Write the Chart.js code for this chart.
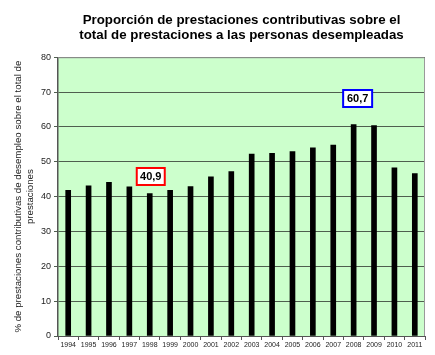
<!DOCTYPE html>
<html>
<head>
<meta charset="utf-8">
<script src="https://cdn.jsdelivr.net/npm/chart.js@4"></script>
<style>
html,body{margin:0;padding:0;background:#fff;}
#wrap{width:435px;height:355px;}
</style>
</head>
<body>
<div id="wrap"><canvas id="c" width="435" height="355"></canvas></div>
<script>
const years = ['1994','1995','1996','1997','1998','1999','2000','2001','2002','2003','2004','2005','2006','2007','2008','2009','2010','2011'];
const values = [41.8,43.1,44.1,42.8,40.9,41.8,42.9,45.7,47.2,52.2,52.4,52.9,54.0,54.8,60.7,60.4,48.3,46.6];
const yTicks = [0,10,20,30,40,50,60,70,80];
const titleLines = ['Proporción de prestaciones contributivas sobre el','total de prestaciones a las personas desempleadas'];
const yTitleLines = ['% de prestaciones contributivas de desempleo sobre el total de','prestaciones'];
const callouts = [
  {year:'1998', text:'40,9', color:'#ff0000'},
  {year:'2008', text:'60,7', color:'#0000ff'}
];

const bgPlugin = {
  id:'bg',
  beforeDraw(chart){
    const {ctx, chartArea:a} = chart;
    ctx.save();
    ctx.fillStyle = '#ccffcc';
    ctx.fillRect(a.left, a.top, a.right-a.left, a.bottom-a.top);
    ctx.restore();
  },
  afterDatasetsDraw(chart){
    const {ctx, chartArea:a} = chart;
    ctx.save();
    ctx.strokeStyle = '#9a9a9a';
    ctx.lineWidth = 1;
    ctx.beginPath();
    ctx.moveTo(a.left, a.top+0.5);
    ctx.lineTo(a.right-0.5, a.top+0.5);
    ctx.lineTo(a.right-0.5, a.bottom);
    ctx.stroke();
    ctx.restore();
  }
};

const calloutPlugin = {
  id:'callouts',
  afterDraw(chart){
    const {ctx} = chart;
    const xs = chart.scales.x, ys = chart.scales.y;
    ctx.save();
    ctx.font = 'bold 11px "Liberation Sans", Arial, sans-serif';
    ctx.textAlign = 'center';
    ctx.textBaseline = 'middle';
    callouts.forEach((c, k) => {
      const i = years.indexOf(c.year);
      const v = values[i];
      const cx = xs.getPixelForValue(i) + (k === 0 ? 1 : 4);
      const cy = ys.getPixelForValue(v) - (k === 0 ? 17 : 26);
      const w = k === 0 ? 28 : 29, h = 17;
      ctx.fillStyle = '#ffffff';
      ctx.fillRect(cx-w/2, cy-h/2, w, h);
      ctx.strokeStyle = c.color;
      ctx.lineWidth = 2;
      ctx.strokeRect(cx-w/2, cy-h/2, w, h);
      ctx.fillStyle = '#000';
      ctx.fillText(c.text, cx, cy+0.5);
    });
    ctx.restore();
  }
};

new Chart(document.getElementById('c'), {
  type:'bar',
  data:{
    labels: years,
    datasets:[{
      data: values,
      backgroundColor:'#000000',
      borderWidth:0,
      barThickness:5
    }]
  },
  options:{
    responsive:false,
    animation:false,
    layout:{padding:{left:0,right:10,top:0,bottom:0}},
    plugins:{
      legend:{display:false},
      tooltip:{enabled:false},
      title:{
        display:true,
        fullSize:false,
        text:titleLines,
        color:'#000',
        font:{family:'"Liberation Sans", Arial, sans-serif', size:13.3, weight:'bold', lineHeight:1.1},
        padding:{top:13,bottom:15}
      }
    },
    scales:{
      x:{
        grid:{display:true, drawOnChartArea:false, drawTicks:true, tickLength:4, color:'#555', offset:true},
        border:{display:true, color:'#555', width:1},
        ticks:{color:'#222', font:{family:'"Liberation Sans", Arial, sans-serif', size:7}, padding:1, maxRotation:0, autoSkip:false},
        afterFit(s){ s.height = 19; }
      },
      y:{
        min:0, max:80,
        afterBuildTicks(s){ s.ticks = yTicks.map(v => ({value:v})); },
        grid:{color:'#4f5f4f', lineWidth:1, drawTicks:true, tickLength:4},
        border:{display:true, color:'#555', width:1.5},
        ticks:{color:'#222', font:{family:'"Liberation Sans", Arial, sans-serif', size:9}, padding:3},
        title:{
          display:true,
          text:yTitleLines,
          color:'#222',
          font:{family:'"Liberation Sans", Arial, sans-serif', size:9.7, lineHeight:1.25},
          padding:{top:12,bottom:0}
        },
        afterFit(s){ s.width = 58; }
      }
    }
  },
  plugins:[bgPlugin, calloutPlugin]
});
</script>
</body>
</html>
